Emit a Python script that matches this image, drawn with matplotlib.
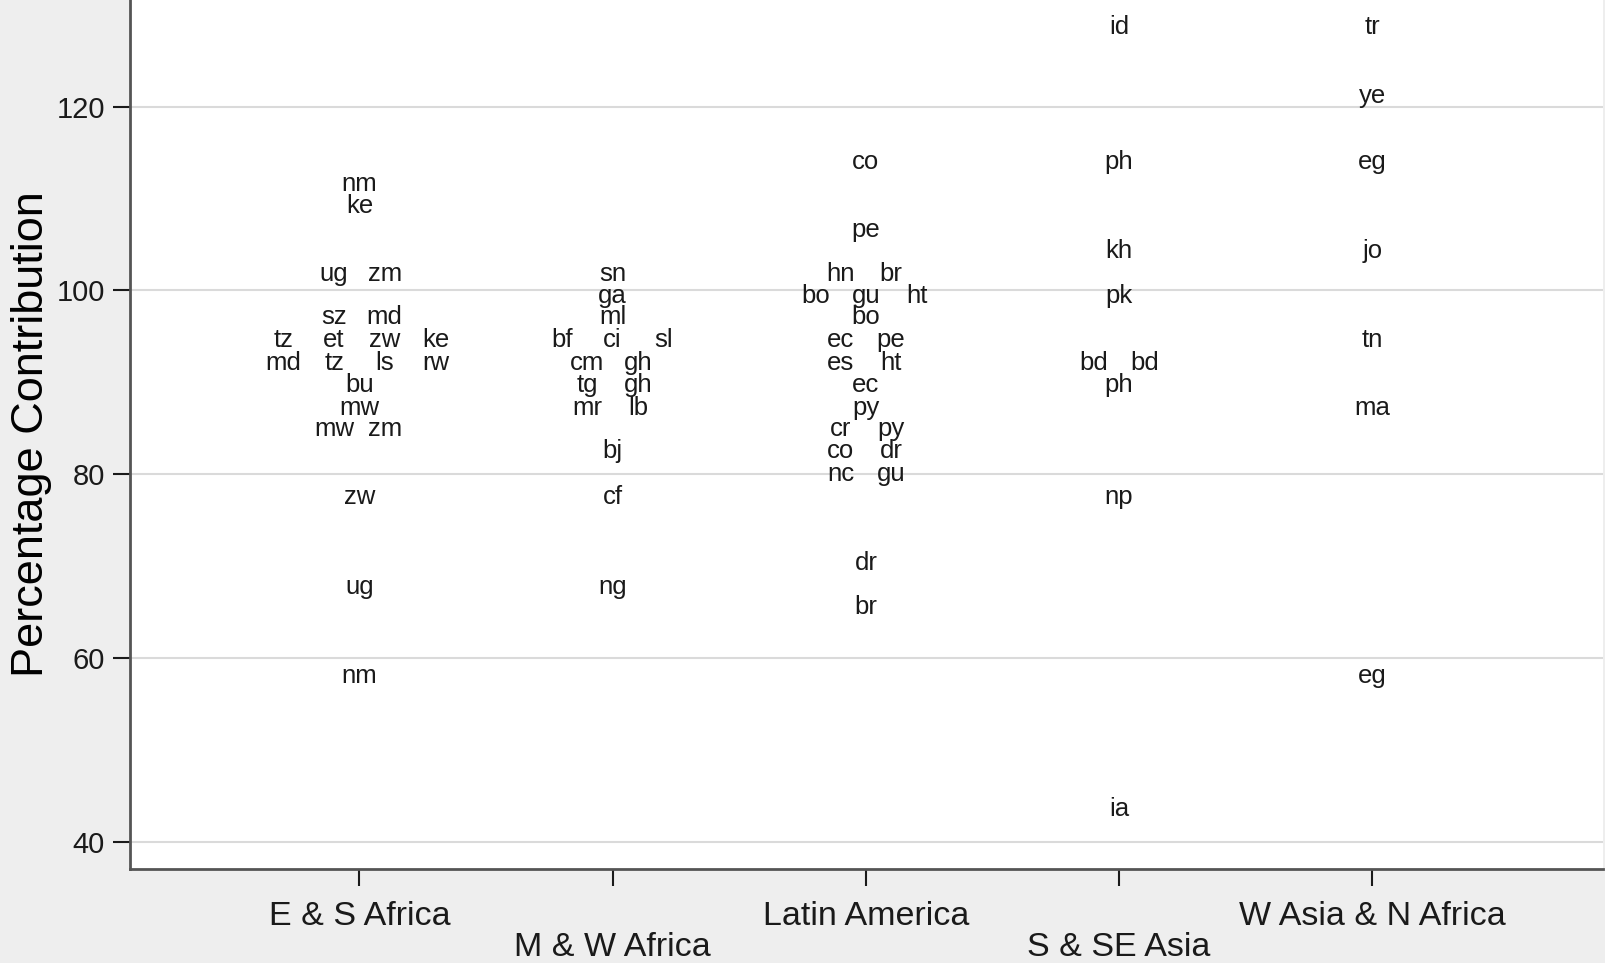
import matplotlib
matplotlib.use("Agg")
import matplotlib.pyplot as plt
from collections import defaultdict

plt.rcParams["font.family"] = ["Liberation Sans", "DejaVu Sans"]

regions = ["E & S Africa", "M & W Africa", "Latin America", "S & SE Asia", "W Asia & N Africa"]

# country codes and their (binned) percentage contribution, per region
es_africa_codes = ["nm", "ke", "ug", "zm", "sz", "md", "tz", "et", "zw", "ke",
                   "md", "tz", "ls", "rw", "bu", "mw", "mw", "zm", "zw", "ug", "nm"]
es_africa_vals = [111.6, 109.2, 101.8, 101.8, 97.1, 97.1, 94.6, 94.6, 94.6, 94.6,
                  92.1, 92.1, 92.1, 92.1, 89.7, 87.2, 84.9, 84.9, 77.5, 67.7, 58.1]

mw_africa_codes = ["sn", "ga", "ml", "bf", "ci", "sl", "cm", "gh", "tg", "gh",
                   "mr", "lb", "bj", "cf", "ng"]
mw_africa_vals = [101.8, 99.4, 97.1, 94.6, 94.6, 94.6, 92.1, 92.1, 89.7, 89.7,
                  87.2, 87.2, 82.5, 77.5, 67.7]

latam_codes = ["co", "pe", "hn", "br", "bo", "gu", "ht", "bo", "ec", "pe", "es", "ht",
               "ec", "py", "cr", "py", "co", "dr", "nc", "gu", "dr", "br"]
latam_vals = [114.0, 106.6, 101.8, 101.8, 99.4, 99.4, 99.4, 97.1, 94.6, 94.6, 92.1, 92.1,
              89.7, 87.2, 84.9, 84.9, 82.5, 82.5, 80.0, 80.0, 70.3, 65.5]

sse_asia_codes = ["id", "ph", "kh", "pk", "bd", "bd", "ph", "np", "ia"]
sse_asia_vals = [128.7, 114.0, 104.3, 99.4, 92.1, 92.1, 89.7, 77.5, 43.6]

wasia_codes = ["tr", "ye", "eg", "jo", "tn", "ma", "eg"]
wasia_vals = [128.7, 121.2, 114.0, 104.3, 94.6, 87.2, 58.1]

groups = [
    (es_africa_codes, es_africa_vals),
    (mw_africa_codes, mw_africa_vals),
    (latam_codes, latam_vals),
    (sse_asia_codes, sse_asia_vals),
    (wasia_codes, wasia_vals),
]

y_ticks = [40, 60, 80, 100, 120]

fig = plt.figure(figsize=(16.06, 9.63), dpi=100)
fig.patch.set_facecolor("#EEEEEE")
ax = fig.add_axes([130 / 1606, 94.5 / 963, 1473 / 1606, 868.5 / 963])
ax.set_facecolor("white")

# labels sharing a bin are spread sideways around the category
step = 0.2
for i, (codes, vals) in enumerate(groups):
    xc = i + 1
    rows = defaultdict(list)
    for c, v in zip(codes, vals):
        rows[v].append(c)
    for v, row in rows.items():
        n = len(row)
        for j, c in enumerate(row):
            ax.text(xc + (j - (n - 1) / 2) * step, v, c, ha="center", va="center",
                    fontsize=18.5, color="#1a1a1a")

ax.set_xlim(0.094, 5.911)
ax.set_ylim(37.1, 131.6)
ax.set_yticks(y_ticks)
ax.set_xticks(range(1, len(regions) + 1))
ax.set_xticklabels(regions, fontsize=24.5)
ax.tick_params(axis="y", labelsize=21, length=12.5, width=1.5, pad=5.5, colors="#1a1a1a")
ax.tick_params(axis="x", length=12.5, width=1.5, colors="#1a1a1a")
for k, t in enumerate(ax.xaxis.get_major_ticks()):
    t.set_pad(11 if k % 2 == 0 else 33.5)

ax.grid(axis="y", color="#DADADA", linewidth=1.5)
ax.set_axisbelow(True)
for side in ["top", "right"]:
    ax.spines[side].set_visible(False)
for side in ["left", "bottom"]:
    ax.spines[side].set_color("#555555")
    ax.spines[side].set_linewidth(2)

ax.set_ylabel("Percentage Contribution", fontsize=32.5)
ax.yaxis.set_label_coords(-0.053, 0.5)

fig.savefig("out.png", dpi=100, facecolor=fig.get_facecolor())
